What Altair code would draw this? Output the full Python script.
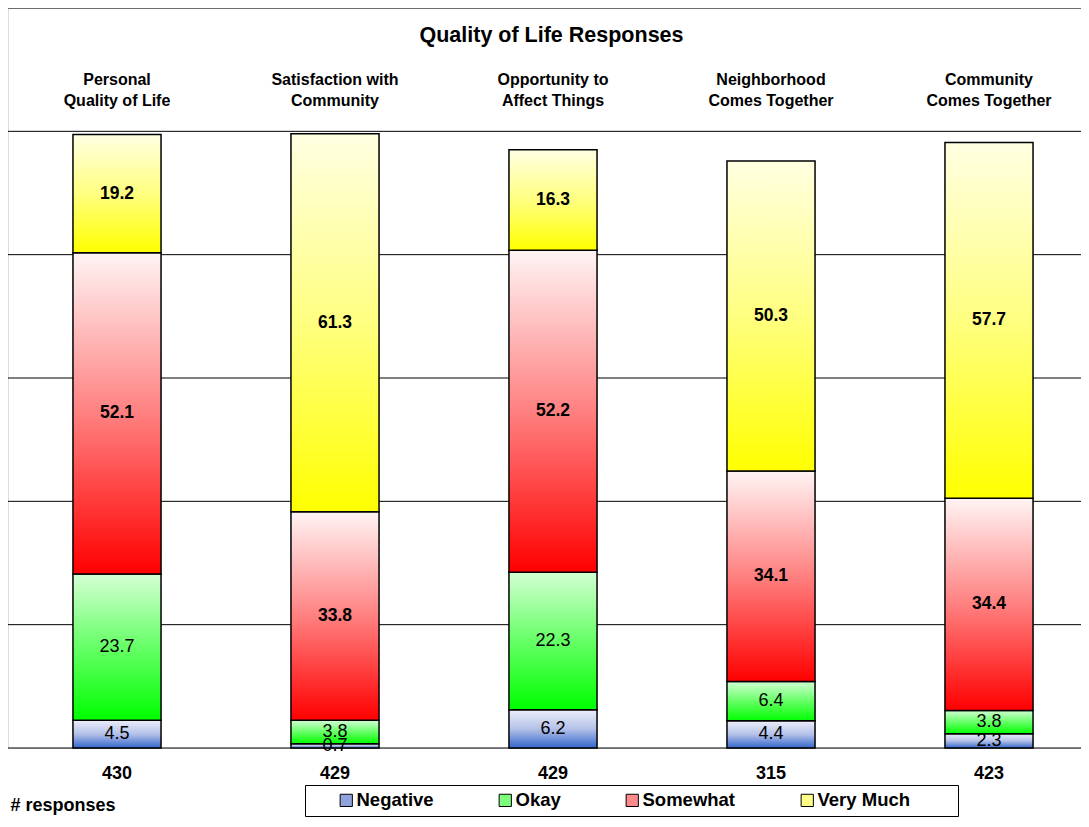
import altair as alt
import pandas as pd

categories = [
    "Personal|Quality of Life",
    "Satisfaction with|Community",
    "Opportunity to|Affect Things",
    "Neighborhood|Comes Together",
    "Community|Comes Together",
]
responses = [430, 429, 429, 315, 423]
levels = ["Negative", "Okay", "Somewhat", "Very Much"]
negative = [4.5, 0.7, 6.2, 4.4, 2.3]
okay = [23.7, 3.8, 22.3, 6.4, 3.8]
somewhat = [52.1, 33.8, 52.2, 34.1, 34.4]
very_much = [19.2, 61.3, 16.3, 50.3, 57.7]
grid_values = [0, 20, 40, 60, 80, 100, 120]

FONT = "Liberation Sans"

rows = []
for i, c in enumerate(categories):
    base = 0.0
    for lvl, series in zip(levels, [negative, okay, somewhat, very_much]):
        v = series[i]
        rows.append(dict(cat=c, level=lvl, value=v, start=base, end=base + v, mid=base + v / 2))
        base += v
df = pd.DataFrame(rows)
grid_df = pd.DataFrame({"v": grid_values})


def grad(top, mid, bottom):
    return alt.Gradient(
        gradient="linear", x1=0, y1=0, x2=0, y2=1,
        stops=[alt.GradientStop(offset=0, color=top),
               alt.GradientStop(offset=0.5, color=mid),
               alt.GradientStop(offset=1, color=bottom)],
    )


gradients = {
    "Negative": grad("#eceef9", "#b4c1e8", "#3366cc"),
    "Okay": grad("#d4ffd4", "#66ff66", "#00ff00"),
    "Somewhat": grad("#fff4f4", "#ff8080", "#ff0000"),
    "Very Much": grad("#ffffe2", "#ffff80", "#ffff00"),
}
legend_colors = ["#8fa3dd", "#7dff7d", "#ff8a8a", "#ffff88"]

VIEW_W = 1073
yscale = alt.Scale(domain=[0, 120], nice=False, zero=True)
xscale = alt.Scale(domain=categories, range=[0, 1090], paddingInner=0.596, paddingOuter=0.298)

top_axis = alt.Axis(
    orient="top", title="Quality of Life Responses",
    titleFont=FONT, titleFontSize=21.5, titleFontWeight="bold", titleColor="black",
    titleX=543, titleY=27, titleAlign="center", titleBaseline="middle", titleAnchor="middle",
    labelExpr="split(datum.value, '|')",
    labelFont=FONT, labelFontSize=16, labelFontWeight="bold", labelColor="black",
    labelPadding=-63, labelBaseline="top", labelLineHeight=21,
    ticks=False, domain=False, labelOverlap=False, labelAngle=0, labelLimit=300,
)

cat_list = ",".join("'" + c + "'" for c in categories)
resp_list = ",".join("'" + str(r) + "'" for r in responses)
bottom_axis = alt.Axis(
    orient="bottom", title="# responses",
    labelExpr="[" + resp_list + "][indexof([" + cat_list + "], datum.value)]",
    labelFont=FONT, labelFontSize=18, labelFontWeight="bold", labelColor="black",
    labelPadding=16, labelAngle=0, ticks=False, domain=False, labelOverlap=False,
    titleFont=FONT, titleFontSize=18, titleFontWeight="bold", titleColor="black",
    titleAnchor="start", titleAlign="left", titleBaseline="middle", titleX=2, titleY=57,
)

y_axis = alt.Axis(
    grid=False, labels=False, ticks=False, domain=True, domainColor="black",
    domainWidth=1.5, title=None,
)

gridlines = alt.Chart(grid_df).mark_rule(color="black", strokeWidth=1).encode(
    y=alt.Y("v:Q", scale=yscale, axis=y_axis),
)

base = alt.Chart(df)

solid = base.mark_bar().encode(
    x=alt.X("cat:N", scale=xscale, sort=categories, axis=top_axis),
    y=alt.Y("start:Q", scale=yscale, axis=None),
    y2="end:Q",
    color=alt.Color(
        "level:N", sort=levels,
        scale=alt.Scale(domain=levels, range=legend_colors),
        legend=alt.Legend(
            orient="none", legendX=297, legendY=777, direction="horizontal", columns=4,
            title="\u00a0", titleOrient="right", titlePadding=42, titleFontSize=10,
            symbolType="square", symbolSize=150, symbolStrokeColor="black",
            symbolStrokeWidth=1, symbolOpacity=1, symbolOffset=26,
            labelFont=FONT, labelFontSize=18.5, labelFontWeight="bold", labelColor="black",
            labelOffset=1, strokeColor="black", fillColor="white", padding=6,
            columnPadding=36,
        ),
    ),
)

layers = [gridlines, solid]
for lvl in levels:
    layers.append(
        base.transform_filter(alt.datum.level == lvl)
        .mark_bar(fill=gradients[lvl], stroke="black", strokeWidth=1.5)
        .encode(
            x=alt.X("cat:N", scale=xscale, sort=categories, axis=None),
            y=alt.Y("start:Q", scale=yscale, axis=None),
            y2="end:Q",
        )
    )

text_regular = base.transform_filter(
    (alt.datum.level == "Negative") | (alt.datum.level == "Okay")
).mark_text(font=FONT, fontSize=18, color="black", baseline="middle", align="center").encode(
    x=alt.X("cat:N", scale=xscale, sort=categories, axis=bottom_axis),
    y=alt.Y("mid:Q", scale=yscale, axis=None),
    text=alt.Text("value:Q", format=".1f"),
)

text_bold = base.transform_filter(
    (alt.datum.level == "Somewhat") | (alt.datum.level == "Very Much")
).mark_text(font=FONT, fontSize=17.5, fontWeight="bold", color="black", baseline="middle", align="center").encode(
    x=alt.X("cat:N", scale=xscale, sort=categories, axis=None),
    y=alt.Y("mid:Q", scale=yscale, axis=None),
    text=alt.Text("value:Q", format=".1f"),
)

layers += [text_regular, text_bold]

chart = (
    alt.layer(*layers)
    .resolve_axis(x="independent")
    .properties(
        width=VIEW_W,
        height=740,
        autosize=alt.AutoSizeParams(type="none"),
        padding={"left": 0, "top": 0, "right": 0, "bottom": 69},
    )
    .configure_view(stroke=None)
    .configure(background="white")
)

chart.save("out.html", embed_options={"renderer": "svg", "actions": False})
